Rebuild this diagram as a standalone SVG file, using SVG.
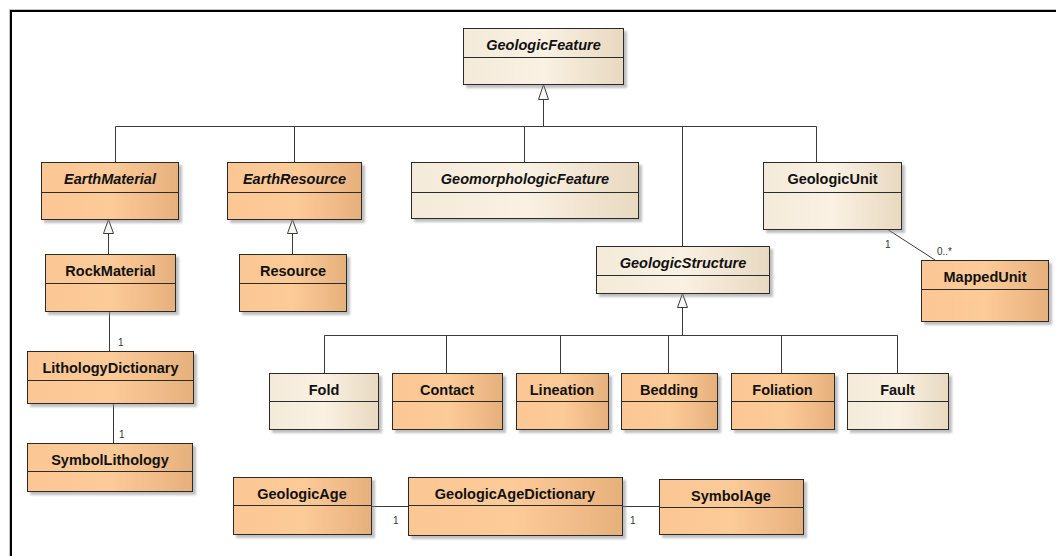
<svg xmlns="http://www.w3.org/2000/svg" width="1056" height="556" viewBox="0 0 1056 556">
<style>
.box{stroke:#2b2b2b;stroke-width:1;filter:url(#sh)}
.or{fill:url(#gOr)}
.bg{fill:url(#gBg)}
.hl{stroke:#2b2b2b;stroke-width:1}
.t{font-family:"Liberation Sans",Arial,sans-serif;font-size:14.5px;font-weight:bold;fill:#111;text-anchor:middle}
.i{font-style:italic}
.c{stroke:#3a3a3a;stroke-width:1;fill:none}
.lab{font-family:"Liberation Sans",Arial,sans-serif;font-size:10px;fill:#333}
.gen{fill:#fbf8f2;stroke:#3a3a3a;stroke-width:1}
</style>
<defs>
<linearGradient id="gOr" x1="0" y1="0" x2="1" y2="0">
<stop offset="0" stop-color="#FBC794"/>
<stop offset="0.5" stop-color="#FDCB98"/>
<stop offset="1" stop-color="#E6B07C"/>
</linearGradient>
<linearGradient id="gBg" x1="0" y1="0" x2="1" y2="0">
<stop offset="0" stop-color="#F4EAD9"/>
<stop offset="0.5" stop-color="#FAF1E3"/>
<stop offset="1" stop-color="#E8D9C0"/>
</linearGradient>
<filter id="sh" x="-10%" y="-10%" width="130%" height="140%">
<feDropShadow dx="3" dy="3" stdDeviation="1" flood-color="#8a8a8a" flood-opacity="0.55"/>
</filter>
</defs>
<rect width="1056" height="556" fill="#fff"/>
<rect x="9.5" y="9.5" width="1100" height="600" fill="none" stroke="#c4c4c4" stroke-width="1"/>
<rect x="11" y="11" width="1100" height="600" fill="none" stroke="#000" stroke-width="2"/>

<g id="connectors">
<!-- GeologicFeature generalization -->
<path class="c" d="M543.5 99V126.5M115.5 162V126.5H816.5V162M294.5 126.5V162M524.5 126.5V162M682.5 126.5V246"/>
<path class="gen" d="M543.5 84.5L538.5 99.5H548.5Z"/>
<!-- EarthMaterial <- RockMaterial -->
<path class="c" d="M108.5 233V254"/>
<path class="gen" d="M108.5 219.5L103.5 233.5H113.5Z"/>
<!-- EarthResource <- Resource -->
<path class="c" d="M292.5 233V254"/>
<path class="gen" d="M292.5 219.5L287.5 233.5H297.5Z"/>
<!-- GeologicStructure generalization -->
<path class="c" d="M682.5 307V335.5M324.5 373V335.5H897.5V373M446.5 335.5V373M560.5 335.5V373M668.5 335.5V373M781.5 335.5V373"/>
<path class="gen" d="M682.5 293.5L677.5 307.5H687.5Z"/>
<!-- associations -->
<path class="c" d="M109.5 311V351"/>
<path class="c" d="M113.5 403V443"/>
<path class="c" d="M887 229L935 260"/>
<path class="c" d="M371 506.5H408M622 506.5H659"/>
<text class="lab" x="118" y="346">1</text>
<text class="lab" x="119" y="438">1</text>
<text class="lab" x="885" y="247.5">1</text>
<text class="lab" x="937" y="255">0..*</text>
<text class="lab" x="393" y="524">1</text>
<text class="lab" x="630" y="524">1</text>
</g>

<g id="GeologicFeature"><rect class="box bg" x="463.5" y="28.5" width="160" height="56"/><path class="hl" d="M463.5 57.5H623.5"/><text class="t i" x="543.5" y="50">GeologicFeature</text></g>
<g id="EarthMaterial"><rect class="box or" x="41.5" y="162.5" width="137" height="57"/><path class="hl" d="M41.5 192.5H178.5"/><text class="t i" x="110" y="184">EarthMaterial</text></g>
<g id="EarthResource"><rect class="box or" x="227.5" y="162.5" width="134" height="57"/><path class="hl" d="M227.5 192.5H361.5"/><text class="t i" x="294.5" y="184">EarthResource</text></g>
<g id="GeomorphologicFeature"><rect class="box bg" x="411.5" y="162.5" width="227" height="56"/><path class="hl" d="M411.5 192.5H638.5"/><text class="t i" x="525" y="184">GeomorphologicFeature</text></g>
<g id="GeologicUnit"><rect class="box bg" x="763.5" y="162.5" width="138" height="67"/><path class="hl" d="M763.5 192.5H901.5"/><text class="t" x="832.5" y="184">GeologicUnit</text></g>
<g id="GeologicStructure"><rect class="box bg" x="596.5" y="246.5" width="173" height="47"/><path class="hl" d="M596.5 275.5H769.5"/><text class="t i" x="683" y="268">GeologicStructure</text></g>
<g id="MappedUnit"><rect class="box or" x="921.5" y="260.5" width="127" height="61"/><path class="hl" d="M921.5 289.5H1048.5"/><text class="t" x="985" y="282">MappedUnit</text></g>
<g id="RockMaterial"><rect class="box or" x="45.5" y="254.5" width="130" height="57"/><path class="hl" d="M45.5 283.5H175.5"/><text class="t" x="110.5" y="276">RockMaterial</text></g>
<g id="Resource"><rect class="box or" x="239.5" y="254.5" width="107" height="57"/><path class="hl" d="M239.5 283.5H346.5"/><text class="t" x="293" y="276">Resource</text></g>
<g id="LithologyDictionary"><rect class="box or" x="27.5" y="351.5" width="166" height="52"/><path class="hl" d="M27.5 380.5H193.5"/><text class="t" x="110.5" y="373">LithologyDictionary</text></g>
<g id="SymbolLithology"><rect class="box or" x="27.5" y="443.5" width="165" height="48"/><path class="hl" d="M27.5 471.5H192.5"/><text class="t" x="110" y="465">SymbolLithology</text></g>
<g id="Fold"><rect class="box bg" x="269.5" y="373.5" width="109" height="56"/><path class="hl" d="M269.5 401.5H378.5"/><text class="t" x="324" y="395">Fold</text></g>
<g id="Contact"><rect class="box or" x="392.5" y="373.5" width="110" height="56"/><path class="hl" d="M392.5 401.5H502.5"/><text class="t" x="447" y="395">Contact</text></g>
<g id="Lineation"><rect class="box or" x="516.5" y="373.5" width="92" height="56"/><path class="hl" d="M516.5 401.5H608.5"/><text class="t" x="562" y="395">Lineation</text></g>
<g id="Bedding"><rect class="box or" x="621.5" y="373.5" width="96" height="56"/><path class="hl" d="M621.5 401.5H717.5"/><text class="t" x="669" y="395">Bedding</text></g>
<g id="Foliation"><rect class="box or" x="731.5" y="373.5" width="103" height="56"/><path class="hl" d="M731.5 401.5H834.5"/><text class="t" x="782.5" y="395">Foliation</text></g>
<g id="Fault"><rect class="box bg" x="847.5" y="373.5" width="101" height="56"/><path class="hl" d="M847.5 401.5H948.5"/><text class="t" x="897.5" y="395">Fault</text></g>
<g id="GeologicAge"><rect class="box or" x="233.5" y="477.5" width="138" height="57"/><path class="hl" d="M233.5 505.5H371.5"/><text class="t" x="302" y="499">GeologicAge</text></g>
<g id="GeologicAgeDictionary"><rect class="box or" x="408.5" y="477.5" width="214" height="58"/><path class="hl" d="M408.5 505.5H622.5"/><text class="t" x="515" y="499">GeologicAgeDictionary</text></g>
<g id="SymbolAge"><rect class="box or" x="659.5" y="479.5" width="144" height="55"/><path class="hl" d="M659.5 507.5H803.5"/><text class="t" x="731" y="501">SymbolAge</text></g>
</svg>
